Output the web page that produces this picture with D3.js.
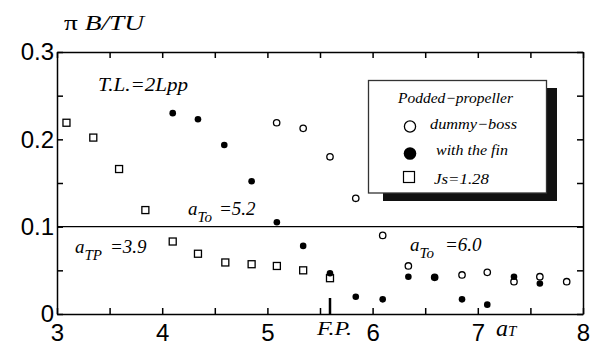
<!DOCTYPE html>
<html>
<head>
<meta charset="utf-8">
<script src="https://cdn.jsdelivr.net/npm/d3@7"></script>
<style>
  body { margin: 0; background: #fff; }
  .axis text { font-family: "Liberation Sans", Arial, sans-serif; font-size: 24px; fill: #000; }
  .axis path, .axis line { stroke: #000; stroke-width: 1.5; }
</style>
</head>
<body>
<div id="chart"></div>
<script>
// values: aT and pi B/TU
const squareX = [3.09, 3.345, 3.59, 3.84, 4.10, 4.34, 4.60, 4.85, 5.09, 5.34, 5.595];
const squareY = [0.219, 0.202, 0.166, 0.119, 0.083, 0.069, 0.059, 0.057, 0.055, 0.050, 0.041];

const finX = [4.10, 4.34, 4.59, 4.85, 5.09, 5.34, 5.595, 5.84, 6.096, 6.34, 6.59, 6.85, 7.09, 7.344, 7.59];
const finY = [0.230, 0.223, 0.1935, 0.152, 0.105, 0.078, 0.0466, 0.0198, 0.0168, 0.0427, 0.042, 0.0168, 0.0107, 0.0427, 0.035];

const bossX = [5.088, 5.34, 5.595, 5.84, 6.096, 6.34, 6.59, 6.85, 7.09, 7.344, 7.59, 7.845];
const bossY = [0.219, 0.2126, 0.180, 0.1325, 0.090, 0.055, 0.042, 0.0447, 0.0477, 0.037, 0.0427, 0.037];

const xTicks = [3, 3.5, 4, 4.5, 5, 5.5, 6, 6.5, 7, 7.5, 8];
const yTicks = [0, 0.05, 0.1, 0.15, 0.2, 0.25, 0.3];
const refLine = 0.1;
const fpX = 5.595;

const W = 602, H = 349;
const mLeft = 57, mRight = 583, mTop = 52, mBottom = 314;
const SERIF = '"Liberation Serif", "Times New Roman", serif';

const svg = d3.select("#chart").append("svg").attr("width", W).attr("height", H);

const x = d3.scaleLinear().domain([3, 8]).range([mLeft, mRight]);
const y = d3.scaleLinear().domain([0, 0.3]).range([mBottom, mTop]);

const lab = d => Number.isInteger(d) ? d : "";
const ylab = d => (Math.abs(d * 10 - Math.round(d * 10)) < 1e-9) ? (d === 0 ? "0" : d.toFixed(1)) : "";

svg.append("g").attr("class", "axis").attr("transform", `translate(0,${mBottom})`)
  .call(d3.axisBottom(x).tickValues(xTicks).tickFormat(lab).tickSize(-6).tickPadding(8).tickSizeOuter(0))
  .selectAll("text").attr("dy", "0.8em");
svg.append("g").attr("class", "axis").attr("transform", `translate(0,${mTop})`)
  .call(d3.axisTop(x).tickValues(xTicks).tickFormat("").tickSize(-6).tickSizeOuter(0));
svg.append("g").attr("class", "axis").attr("transform", `translate(${mLeft},0)`)
  .call(d3.axisLeft(y).tickValues(yTicks).tickFormat(ylab).tickSize(-6).tickPadding(3).tickSizeOuter(0));
svg.append("g").attr("class", "axis").attr("transform", `translate(${mRight},0)`)
  .call(d3.axisRight(y).tickValues(yTicks).tickFormat("").tickSize(-6).tickSizeOuter(0));

// reference line
svg.append("line").attr("x1", x(3)).attr("x2", x(8)).attr("y1", y(refLine)).attr("y2", y(refLine))
  .attr("stroke", "#000").attr("stroke-width", 1.3);

// F.P. marker
svg.append("line").attr("x1", x(fpX)).attr("x2", x(fpX)).attr("y1", y(0)).attr("y2", y(0) - 16)
  .attr("stroke", "#000").attr("stroke-width", 2.5);

// points
svg.append("g").selectAll("rect").data(squareX).join("rect")
  .attr("x", (d, i) => x(d) - 3.5).attr("y", (d, i) => y(squareY[i]) - 3.5)
  .attr("width", 7).attr("height", 7).attr("fill", "#fff").attr("stroke", "#000").attr("stroke-width", 1.3);
svg.append("g").selectAll("circle").data(finX).join("circle")
  .attr("cx", d => x(d)).attr("cy", (d, i) => y(finY[i])).attr("r", 3.3).attr("fill", "#000");
svg.append("g").selectAll("circle").data(bossX).join("circle")
  .attr("cx", d => x(d)).attr("cy", (d, i) => y(bossY[i])).attr("r", 3.2)
  .attr("fill", "none").attr("stroke", "#000").attr("stroke-width", 1.3);

function ital(px, py, size, len) {
  const t = svg.append("text").attr("x", px).attr("y", py)
    .style("font-family", SERIF).style("font-style", "italic").style("font-size", size + "px");
  if (len) t.attr("textLength", len).attr("lengthAdjust", "spacingAndGlyphs");
  return t;
}

// legend
svg.append("rect").attr("x", 383).attr("y", 88).attr("width", 174).attr("height", 113).attr("fill", "#111");
svg.append("rect").attr("x", 368.5).attr("y", 80.5).attr("width", 178).attr("height", 112.5)
  .attr("fill", "#fff").attr("stroke", "#333").attr("stroke-width", 1.3);
ital(398, 102.5, 15, 115).text("Podded\u2212propeller");
svg.append("circle").attr("cx", 410).attr("cy", 126.5).attr("r", 5.6).attr("fill", "none").attr("stroke", "#000").attr("stroke-width", 1.3);
ital(430, 128.5, 15, 87).text("dummy\u2212boss");
svg.append("circle").attr("cx", 410).attr("cy", 153.5).attr("r", 6.3).attr("fill", "#000");
ital(436, 154.5, 15, 72).text("with the fin");
svg.append("rect").attr("x", 403.5).attr("y", 171.5).attr("width", 11).attr("height", 11)
  .attr("fill", "#fff").attr("stroke", "#000").attr("stroke-width", 1.2);
ital(434, 183.5, 15, 55).text("Js=1.28");

// annotations
ital(64, 30, 21, 80).html('<tspan style="font-style:normal">\u03c0</tspan> B/TU');
ital(98, 91, 19, 90).text("T.L.=2Lpp");

function subLabel(px, py, sub, rest, restX) {
  const t = ital(px, py, 19);
  t.append("tspan").text("a");
  t.append("tspan").style("font-size", "15px").attr("dy", 7).text(sub);
  t.append("tspan").attr("x", restX).attr("dy", -7).text(rest);
}
subLabel(188, 215, "To", "=5.2", 219);
subLabel(75, 253, "TP", "=3.9", 110);
subLabel(410, 251, "To", "=6.0", 445);

ital(317, 335, 18, 35).text("F.P.");
const at = ital(496, 336, 24);
at.append("tspan").text("a");
at.append("tspan").style("font-size", "15px").text("T");
</script>
</body>
</html>
